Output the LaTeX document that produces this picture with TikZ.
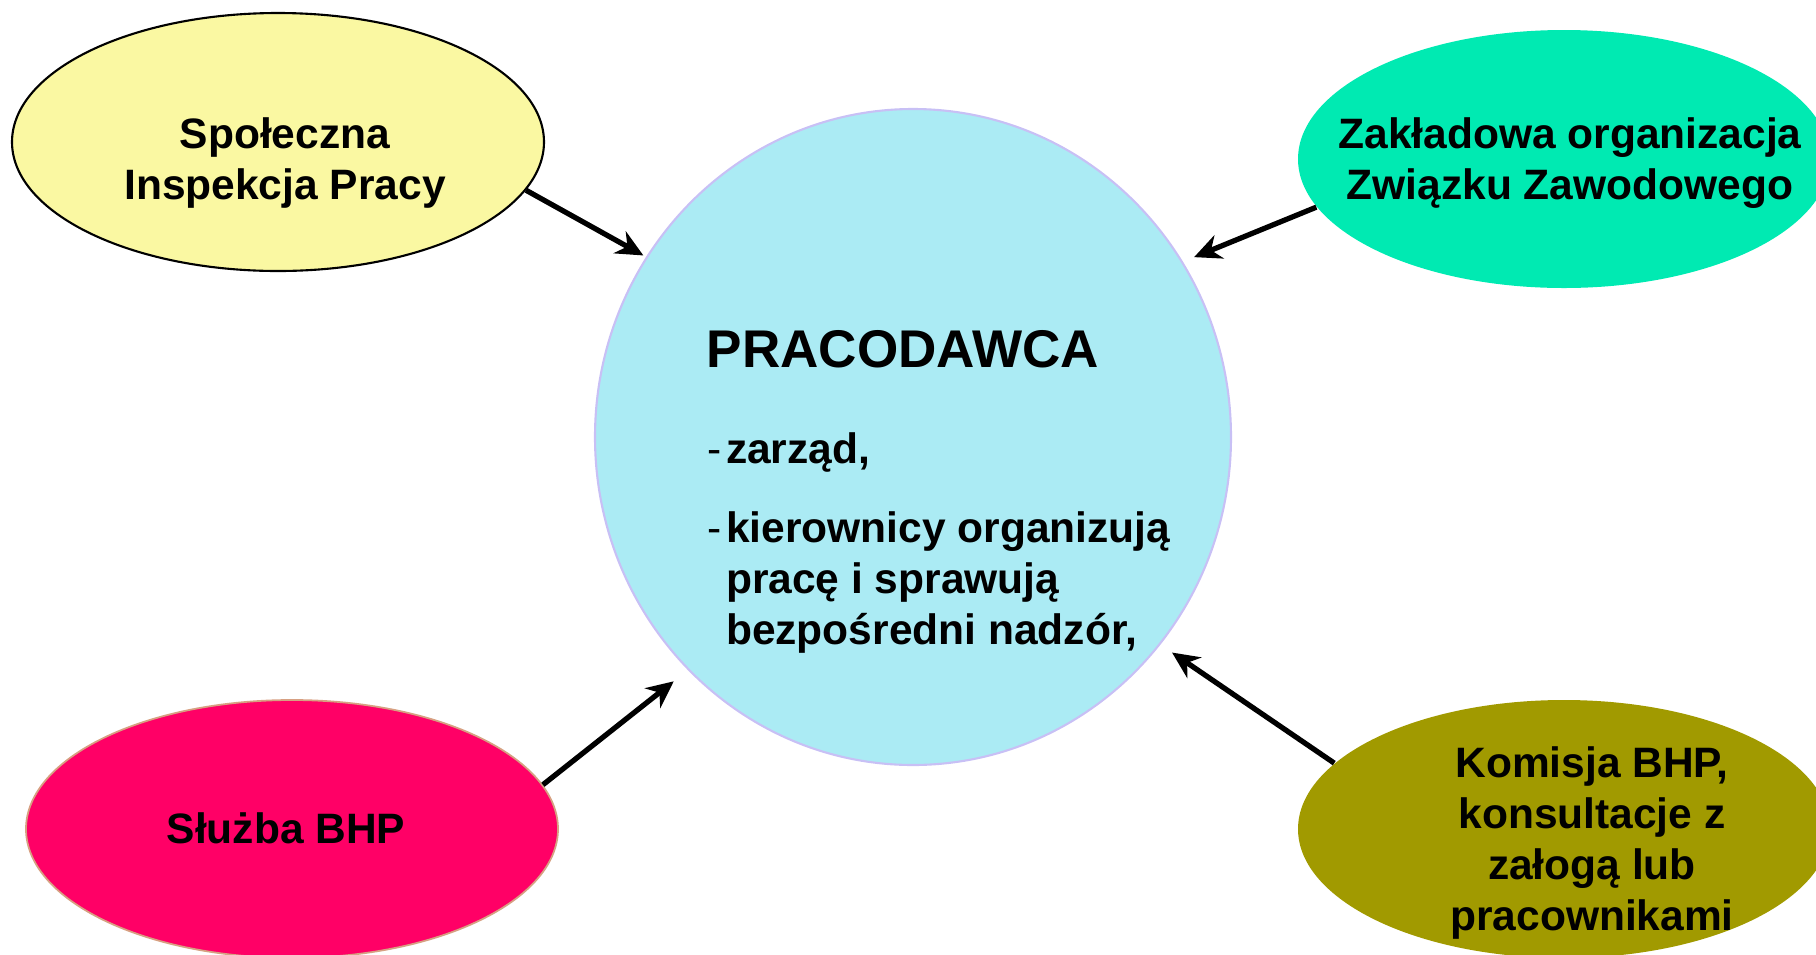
\documentclass[tikz,border=0pt]{standalone}
\usepackage{fontspec}
\setmainfont{Liberation Sans}
\usetikzlibrary{positioning}
\usetikzlibrary{shapes.geometric}
\usetikzlibrary{arrows.meta}

\definecolor{kolpraco}{RGB}{171,235,244}
\definecolor{kolobrys}{RGB}{200,192,245}
\definecolor{kolspi}{RGB}{250,248,162}
\definecolor{kolzzz}{RGB}{0,234,178}
\definecolor{kolsluzba}{RGB}{255,0,102}
\definecolor{kolsluzbaobr}{RGB}{215,160,130}
\definecolor{kolkomisja}{RGB}{161,154,0}

\tikzset{
  owal/.style={ellipse, minimum width=53.2mm, minimum height=25.8mm, inner sep=0pt},
  napis/.style={font=\fontsize{12.1}{14.6}\selectfont\bfseries, align=center, inner sep=0pt},
  strzalka/.style={line width=1.5pt, -{Stealth[length=2.7mm, width=2.5mm]}}
}

\begin{document}
\begin{tikzpicture}[x=0.1mm, y=-0.1mm]
\useasboundingbox (0,0) rectangle (1816,954);
\clip (0,0) rectangle (1816,954);

% pracodawca w srodku
\node[ellipse, minimum width=63.6mm, minimum height=65.6mm, fill=kolpraco, draw=kolobrys, line width=0.6pt] (praco) at (913,437) {};

\node[anchor=mid west, inner sep=0pt, font=\fontsize{15.1}{18}\selectfont\bfseries] (tytul) at (706,358) {PRACODAWCA};

\node[anchor=north west, inner sep=0pt, font=\fontsize{12.1}{14.5}\selectfont\bfseries] (lista) at (707,427)
{\begin{tabular}{@{}l@{\hspace{1.2pt}}l@{}}
{\mdseries -}&zarząd,\\[8pt]
{\mdseries -}&kierownicy organizują\\
&pracę i sprawują\\
&bezpośredni nadzór,
\end{tabular}};

% owale dookola
\node[owal, fill=kolspi, draw=black, line width=0.6pt] (spi) at (278,142) {};
\node[napis] (spi-t) at (285,163) {Społeczna\\Inspekcja Pracy};

\node[owal, fill=kolzzz] (zzz) at (1564,159) {};
\node[napis] (zzz-t) at (1570,163) {Zakładowa organizacja\\Związku Zawodowego};

\node[owal, fill=kolsluzba, draw=kolsluzbaobr, line width=0.5pt] (sluzba) at (292,829) {};
\node[napis] (sluzba-t) at (286,828) {Służba BHP};

\node[owal, fill=kolkomisja] (komisja) at (1564,829) {};
\node[napis] (komisja-t) at (1592,843) {Komisja BHP,\\konsultacje z\\załogą lub\\pracownikami};

% strzalki
\draw[strzalka, shorten >=0.3mm] (spi.-11) -- (praco.146);
\draw[strzalka, shorten >=1.2mm] (zzz.-169) -- (praco.33);
\draw[strzalka, shorten >=1.8mm] (sluzba.10) -- (praco.-134);
\draw[strzalka, shorten >=1.4mm] (komisja.164) -- (praco.-40);

\end{tikzpicture}
\end{document}
